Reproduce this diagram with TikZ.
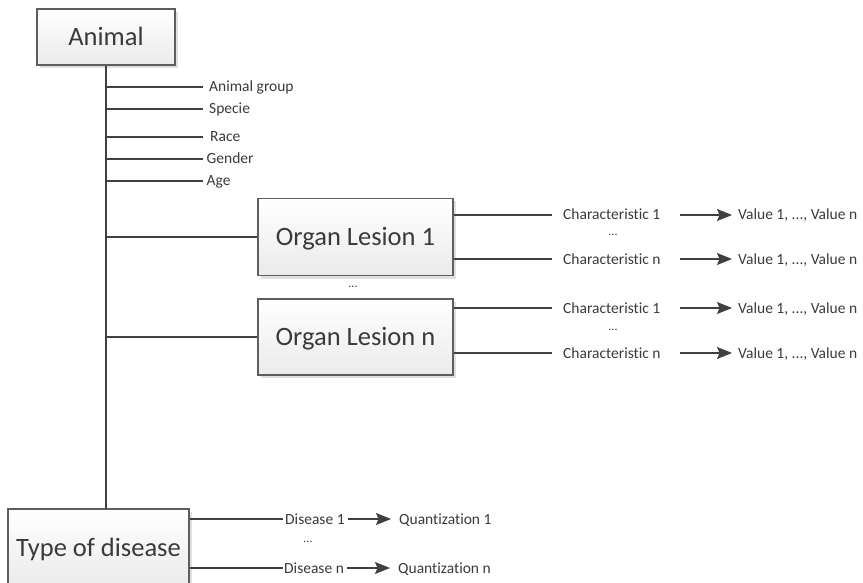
\documentclass[tikz,border=0pt]{standalone}
\usepackage{fontspec}
\setmainfont{Carlito}[Ligatures={NoCommon,NoRare}]
\usetikzlibrary{arrows.meta,shadows}
\definecolor{txt}{HTML}{3A3A3A}
\definecolor{ln}{HTML}{404040}
\definecolor{bord}{HTML}{5E5E5E}
\tikzset{
  bigbox/.style={draw=bord, line width=1.3pt, top color=white, bottom color=black!8,
    drop shadow={shadow xshift=3pt, shadow yshift=-3pt, fill=black!12, opacity=1},
    inner sep=0pt, text height=17pt, text depth=0pt, text=txt,
    font=\fontsize{26.5}{30}\selectfont},
  lbl/.style={inner sep=0pt, anchor=west, text height=10pt, text depth=0pt, text=txt,
    font=\fontsize{15.5}{18}\selectfont},
  dots/.style={inner sep=0pt, text=txt, font=\fontsize{12}{14}\selectfont},
  conn/.style={draw=ln, line width=1.2pt},
  arr/.style={draw=ln, line width=1.2pt, -{Stealth[length=15pt,width=12pt,inset=2.5pt]}}
}
\begin{document}
\begin{tikzpicture}[x=1pt,y=-1pt]
\useasboundingbox (0,0) rectangle (863,583);
\clip (0,0) rectangle (863,583);
% main boxes
\node[bigbox, minimum width=138pt, minimum height=56pt] (animal) at (106,37) {Animal};
\node[bigbox, minimum width=195pt, minimum height=77pt] (ol1) at (355.5,237) {Organ Lesion 1};
\node[bigbox, minimum width=195pt, minimum height=76pt] (oln) at (355.5,337) {Organ Lesion n};
\node[bigbox, minimum width=181pt, minimum height=78pt] (tod) at (98.5,548) {Type of disease};
\node[dots] (oldots) at (353,287) {...};
% trunk
\coordinate (trunkend) at (106,509);
\draw[conn] (animal.south) -- (trunkend);
% attributes
\node[lbl] (ag) at (209,87) {Animal group};
\node[lbl] (sp) at (209,109) {Specie};
\node[lbl] (rc) at (210,137) {Race};
\node[lbl] (gd) at (206.5,159) {Gender};
\node[lbl] (ae) at (206.5,181) {Age};
\foreach \n in {ag,sp,rc,gd,ae}{
  \draw[conn] (animal.south |- \n.west) -- (203,0 |- \n.west);
}
% lesion branches
\draw[conn] (animal.south |- ol1.west) -- (ol1.west);
\draw[conn] (animal.south |- oln.west) -- (oln.west);
% characteristics
\node[lbl] (c11) at (563,215) {Characteristic 1};
\node[lbl] (c1n) at (563,259) {Characteristic n};
\node[lbl] (cn1) at (563,308) {Characteristic 1};
\node[lbl] (cnn) at (563,353) {Characteristic n};
\node[dots] (d1) at (613,235) {...};
\node[dots] (d2) at (613,330) {...};
\node[lbl] (v11) at (738,215) {Value 1, ..., Value n};
\node[lbl] (v1n) at (738,259) {Value 1, ..., Value n};
\node[lbl] (vn1) at (738,308) {Value 1, ..., Value n};
\node[lbl] (vnn) at (738,353) {Value 1, ..., Value n};
\draw[conn] (ol1.east |- c11.west) -- ([xshift=-11pt]c11.west);
\draw[conn] (ol1.east |- c1n.west) -- ([xshift=-11pt]c1n.west);
\draw[conn] (oln.east |- cn1.west) -- ([xshift=-11pt]cn1.west);
\draw[conn] (oln.east |- cnn.west) -- ([xshift=-11pt]cnn.west);
\foreach \a/\b in {c11/v11,c1n/v1n,cn1/vn1,cnn/vnn}{
  \draw[arr] (680,0 |- \a.west) -- ([xshift=-6pt]\b.west);
}
% diseases
\node[lbl] (dis1) at (285,519) {Disease 1};
\node[lbl] (disn) at (284,568) {Disease n};
\node[dots] (d3) at (308,542) {...};
\node[lbl] (q1) at (399,519) {Quantization 1};
\node[lbl] (qn) at (398,568) {Quantization n};
\draw[conn] (tod.east |- dis1.west) -- ([xshift=-2pt]dis1.west);
\draw[conn] (tod.east |- disn.west) -- ([xshift=-1pt]disn.west);
\draw[arr] ([xshift=3pt]dis1.east) -- ([xshift=-8pt]q1.west);
\draw[arr] ([xshift=3pt]disn.east) -- ([xshift=-8pt]qn.west);
\end{tikzpicture}
\end{document}
